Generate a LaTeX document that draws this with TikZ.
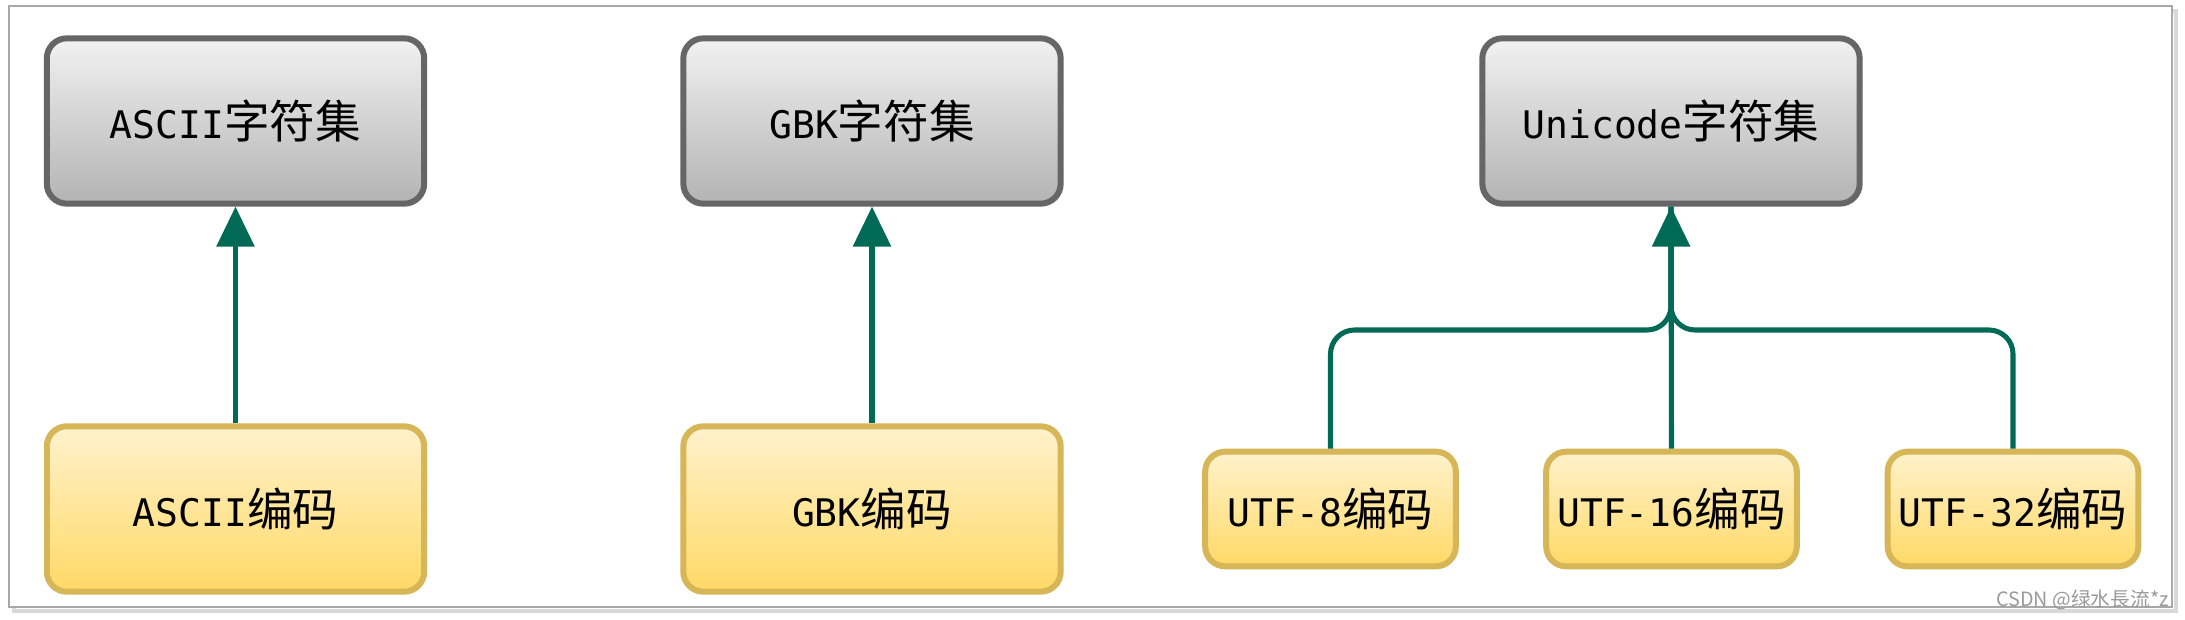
\documentclass[tikz,border=0pt]{standalone}
\usepackage{fontspec}
\setmainfont{DejaVu Sans Mono}
\newfontfamily\cjk{Noto Sans CJK SC}[Scale=1.2]
\newfontfamily\wm{Noto Sans CJK SC}
\usetikzlibrary{arrows.meta}
\definecolor{grayline}{HTML}{666666}
\definecolor{graytop}{HTML}{F2F2F2}
\definecolor{graybot}{HTML}{B3B3B3}
\definecolor{yelline}{HTML}{D6B656}
\definecolor{yeltop}{HTML}{FFF2CC}
\definecolor{yelbot}{HTML}{FFD966}
\definecolor{conncol}{HTML}{006A56}
\definecolor{framecol}{HTML}{A8A8A8}
\definecolor{shadowcol}{HTML}{D8D8D8}
\definecolor{wmcol}{HTML}{9A9A9A}
\begin{document}
\begin{tikzpicture}[x=0.75pt,y=-0.75pt,
  base/.style={rectangle, rounded corners=15pt, line width=4.5pt, inner sep=0pt, font=\fontsize{28.5}{30}\selectfont, text=black},
  setbox/.style={base, draw=grayline, top color=graytop, bottom color=graybot, minimum width=283pt, minimum height=124pt},
  encbox/.style={base, draw=yelline, top color=yeltop, bottom color=yelbot, minimum width=283pt, minimum height=124pt},
  smallenc/.style={base, draw=yelline, top color=yeltop, bottom color=yelbot, minimum width=188pt, minimum height=86pt},
  conn/.style={draw=conncol, line width=3.8pt},
  arr/.style={conn, -{Triangle[length=30pt,width=28pt]}}
]
\useasboundingbox (0,0) rectangle (2185,620);
% frame with shadow
\draw[shadowcol, line width=3pt] (14,11) rectangle (2176,611);
\draw[framecol, line width=1.2pt, fill=white] (9,6) rectangle (2172,607);

% character sets
\node[setbox] (as) at (235.5,121) {ASCII{\cjk 字符集}};
\node[setbox] (gs) at (872,121) {GBK{\cjk 字符集}};
\node[setbox] (us) at (1671,121) {Unicode{\cjk 字符集}};

% encodings
\node[encbox] (ae) at (235.5,509) {ASCII{\cjk 编码}};
\node[encbox] (ge) at (872,509) {GBK{\cjk 编码}};
\node[smallenc] (u8) at (1330.5,509) {UTF-8{\cjk 编码}};
\node[smallenc] (u16) at (1671.5,509) {UTF-16{\cjk 编码}};
\node[smallenc] (u32) at (2013,509) {UTF-32{\cjk 编码}};

% connectors
\draw[arr] (ae.north) -- (as.south);
\draw[arr] (ge.north) -- (gs.south);
\coordinate (h) at (1671,330);
\draw[conn, rounded corners=18pt] (u8.north) -- (u8.north |- h) -- (us.south |- h) -- (us.south);
\draw[conn, rounded corners=18pt] (u32.north) -- (u32.north |- h) -- (us.south |- h) -- (us.south);
\draw[arr] (u16.north) -- (us.south);

% watermark
\node[anchor=base east, inner sep=0pt, text=wmcol, font=\wm\fontsize{14.8}{15}\selectfont] (wmk) at (2169,606) {CSDN @绿水長流*z};
\end{tikzpicture}
\end{document}
